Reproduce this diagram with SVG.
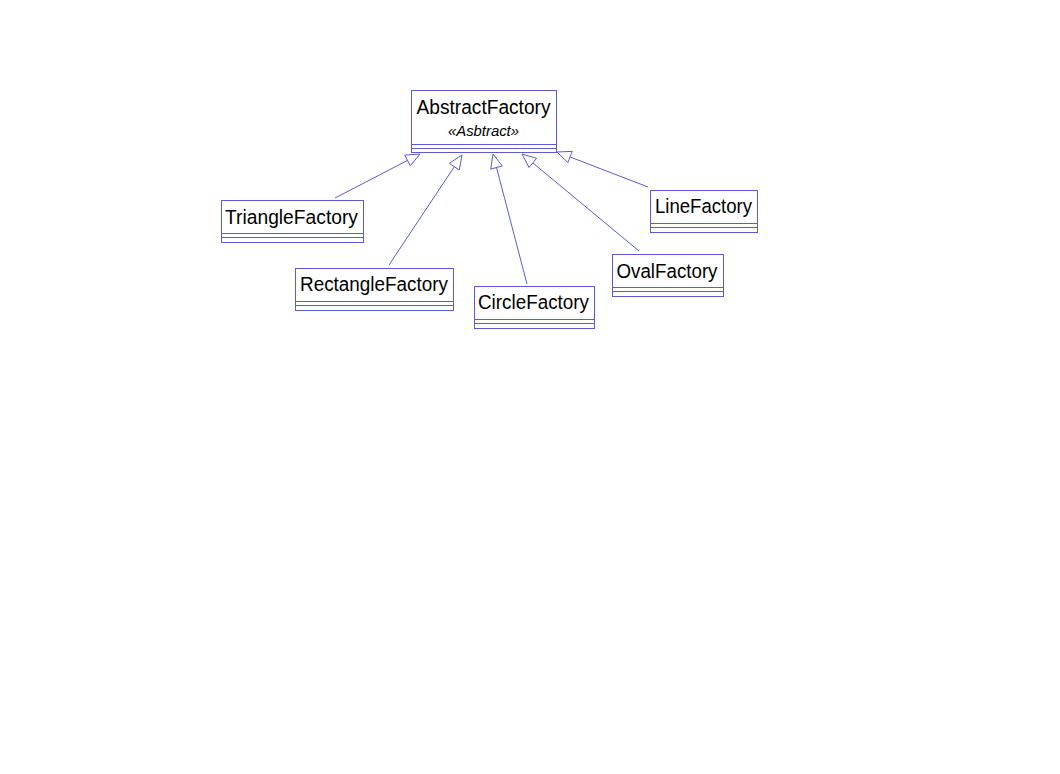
<svg xmlns="http://www.w3.org/2000/svg" width="1060" height="774" viewBox="0 0 1060 774">
<defs>
<style>
.box{fill:#ffffff;stroke:#5b5bd6;stroke-width:1}
.div{stroke:#5b5bd6;stroke-width:1;fill:none}
.name{font-family:"Liberation Sans",Arial,sans-serif;font-size:20px;fill:#000000;text-anchor:middle}
.stereo{font-family:"Liberation Sans",Arial,sans-serif;font-size:15px;font-style:italic;fill:#000000;text-anchor:middle}
.conn line{stroke:#5b5bd6;stroke-width:1}
.conn polygon{fill:#ffffff;stroke:#5b5bd6;stroke-width:1}
</style>
</defs>
<rect width="1060" height="774" fill="#ffffff"/>
<g id="connectors" class="conn">
<line x1="335" y1="198" x2="407.6" y2="160.4"/>
<polygon points="420,154 410.3,165.8 404.8,155.1"/>
<line x1="389" y1="265" x2="454.3" y2="166.7"/>
<polygon points="462,155 459.3,170 449.3,163.3"/>
<line x1="527" y1="284" x2="496.5" y2="167.5"/>
<polygon points="493,154 502.3,166 490.7,169.1"/>
<line x1="639" y1="251" x2="532.8" y2="162.9"/>
<polygon points="522,154 536.6,158.3 529,167.5"/>
<line x1="648" y1="187" x2="570.1" y2="157"/>
<polygon points="557,152 572.2,151.4 567.9,162.6"/>
</g>
<g id="AbstractFactory">
<rect class="box" x="411.5" y="90.5" width="145" height="62"/>
<line class="div" x1="411.5" y1="144.5" x2="556.5" y2="144.5"/>
<line class="div" x1="411.5" y1="148.5" x2="556.5" y2="148.5"/>
<text class="name" x="483.5" y="114" textLength="134" lengthAdjust="spacingAndGlyphs">AbstractFactory</text>
<text class="stereo" x="483.5" y="136" textLength="71" lengthAdjust="spacingAndGlyphs">«Asbtract»</text>
</g>
<g id="TriangleFactory">
<rect class="box" x="221.5" y="200.5" width="142" height="42"/>
<line class="div" x1="221.5" y1="233.5" x2="363.5" y2="233.5"/>
<line class="div" x1="221.5" y1="237.5" x2="363.5" y2="237.5"/>
<text class="name" x="291.5" y="224" textLength="133" lengthAdjust="spacingAndGlyphs">TriangleFactory</text>
</g>
<g id="RectangleFactory">
<rect class="box" x="295.5" y="268.5" width="158" height="42"/>
<line class="div" x1="295.5" y1="301.5" x2="453.5" y2="301.5"/>
<line class="div" x1="295.5" y1="305.5" x2="453.5" y2="305.5"/>
<text class="name" x="374" y="291" textLength="148" lengthAdjust="spacingAndGlyphs">RectangleFactory</text>
</g>
<g id="CircleFactory">
<rect class="box" x="474.5" y="286.5" width="120" height="42"/>
<line class="div" x1="474.5" y1="319.5" x2="594.5" y2="319.5"/>
<line class="div" x1="474.5" y1="323.5" x2="594.5" y2="323.5"/>
<text class="name" x="533.5" y="309" textLength="111" lengthAdjust="spacingAndGlyphs">CircleFactory</text>
</g>
<g id="OvalFactory">
<rect class="box" x="612.5" y="254.5" width="111" height="42"/>
<line class="div" x1="612.5" y1="287.5" x2="723.5" y2="287.5"/>
<line class="div" x1="612.5" y1="291.5" x2="723.5" y2="291.5"/>
<text class="name" x="667" y="278" textLength="101" lengthAdjust="spacingAndGlyphs">OvalFactory</text>
</g>
<g id="LineFactory">
<rect class="box" x="650.5" y="190.5" width="107" height="42"/>
<line class="div" x1="650.5" y1="223.5" x2="757.5" y2="223.5"/>
<line class="div" x1="650.5" y1="227.5" x2="757.5" y2="227.5"/>
<text class="name" x="703.5" y="213" textLength="97" lengthAdjust="spacingAndGlyphs">LineFactory</text>
</g>
</svg>
